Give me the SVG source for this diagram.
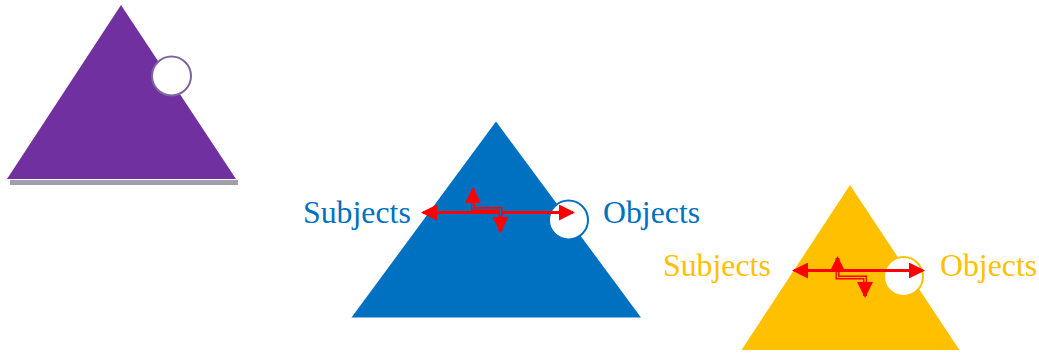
<svg xmlns="http://www.w3.org/2000/svg" width="1039" height="354" viewBox="0 0 1039 354">
<style>
.lbl{font-family:"Liberation Serif","Times New Roman",serif;font-size:31.8px}
.blue{fill:#0070C0}
.yel{fill:#FFC000}
.red{stroke:#FF0000;stroke-width:3;fill:none}
.elb{stroke:#FF0000;stroke-width:4;fill:none}
</style>
<defs>
<marker id="ah" viewBox="0 0 16 16" refX="14" refY="8" markerWidth="16" markerHeight="16" markerUnits="userSpaceOnUse" orient="auto-start-reverse">
<path d="M0,0 L16,8 L0,16 z" fill="#FF0000"/>
</marker>
</defs>
<g id="purple">
<rect x="10" y="180" width="228" height="5" fill="#A39DAE"/>
<polygon points="121,5 7,179 236,179" fill="#7030A0"/>
<circle cx="171.5" cy="76" r="19.5" fill="#FFFFFF" stroke="#8064A2" stroke-width="2"/>
</g>
<g id="blue">
<polygon points="496,121.5 351.5,317.5 641,317.5" fill="#0070C0"/>
<circle cx="568.5" cy="220" r="19.5" fill="#FFFFFF" stroke="#0070C0" stroke-width="2"/>
<text class="lbl blue" x="303" y="223">Subjects</text>
<text class="lbl blue" x="603" y="223">Objects</text>
</g>
<g id="yellow">
<polygon points="850,185 741.5,350 959.5,350" fill="#FFC000"/>
<circle cx="903.5" cy="276.5" r="19.5" fill="#FFFFFF" stroke="#FFC000" stroke-width="2"/>
<text class="lbl yel" x="663" y="276">Subjects</text>
<text class="lbl yel" x="940" y="276">Objects</text>
</g>
<g id="connectors">
<path class="red" d="M423,212.5 L573,212.5" marker-start="url(#ah)" marker-end="url(#ah)"/>
<path class="elb" d="M473,189 L473,209 L500.5,209 L500.5,231" marker-start="url(#ah)" marker-end="url(#ah)"/>
<path d="M473,203 L473,209 L500.5,209 L500.5,216" stroke="#0070C0" stroke-width="1.2" fill="none"/>
<path class="red" d="M794,270.5 L923,270.5" marker-start="url(#ah)" marker-end="url(#ah)"/>
<path class="elb" d="M837.5,258 L837.5,277.5 L865,277.5 L865,296" marker-start="url(#ah)" marker-end="url(#ah)"/>
<path d="M837.5,272 L837.5,277.5 L865,277.5 L865,282" stroke="#FFC000" stroke-width="1.2" fill="none"/>
</g>
</svg>
